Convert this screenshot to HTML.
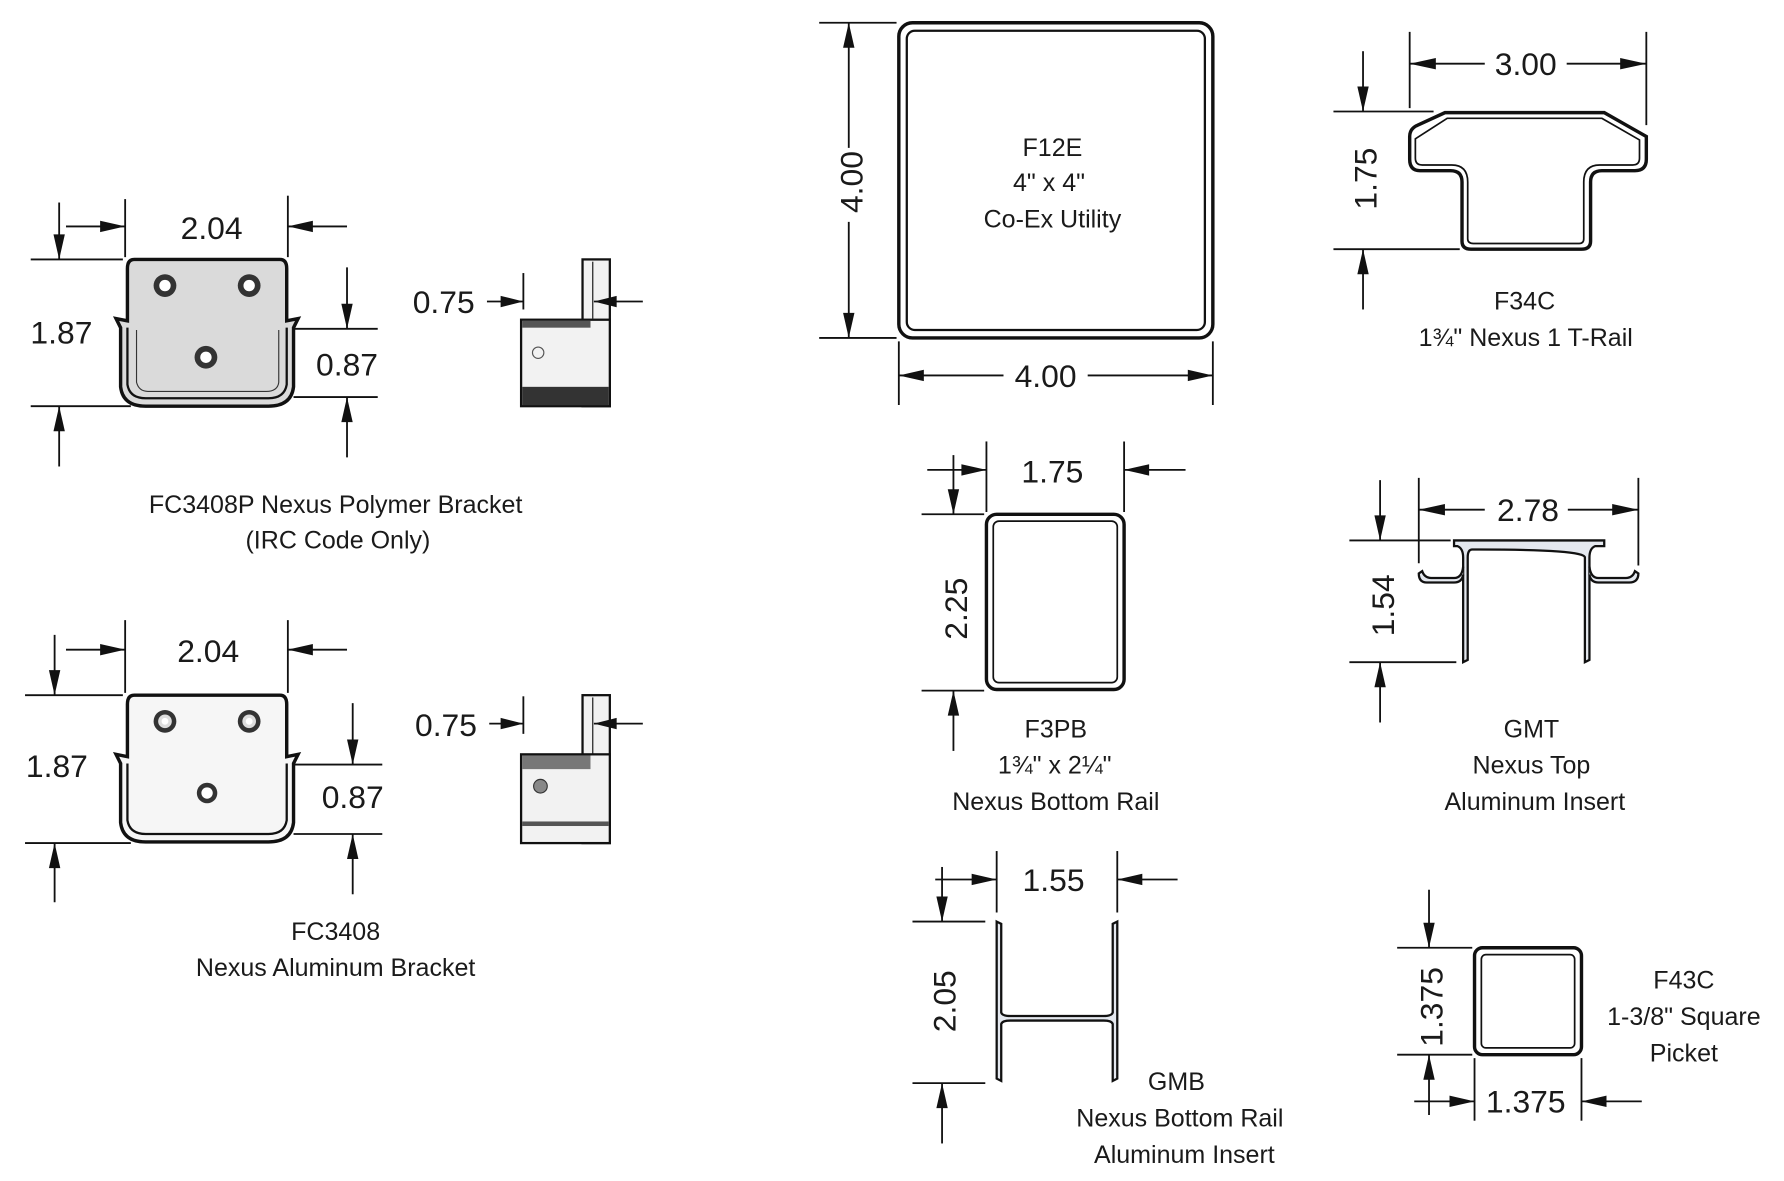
<!DOCTYPE html>
<html><head><meta charset="utf-8"><style>
html,body{margin:0;padding:0;background:#fff;}
svg{display:block;}
text{font-family:"Liberation Sans","DejaVu Sans",sans-serif;fill:#1a1a1a;}
.t{font-size:22px;text-anchor:middle;}
.d{font-size:28px;text-anchor:middle;}
line{stroke:#111;stroke-width:1.6;}
polygon.a{fill:#111;}
</style></head><body>
<svg width="1784" height="1181" viewBox="0 0 1568 1038" preserveAspectRatio="none" xmlns="http://www.w3.org/2000/svg">

<!-- ===== Bracket 1 ===== -->
<path d="M118,228 H246 Q252,228 252,236 V282 L262,280 L258,288 V340 Q256,357 236,357 H128 Q108,357 106,340 V288 L102,280 L112,282 V236 Q112,228 118,228 Z" fill="#dadada" stroke="#111" stroke-width="3"/>
<path d="M112,288 V338 Q114,350 128,350 H236 Q250,350 252,338 V288" fill="none" stroke="#111" stroke-width="2"/>
<path d="M120,290 V336 Q122,344 130,344 H234 Q244,344 245,336 V290" fill="none" stroke="#333" stroke-width="1"/>
<circle cx="145" cy="251" r="10" fill="#333"/><circle cx="145" cy="251" r="5" fill="#fff"/>
<circle cx="219" cy="251" r="10" fill="#333"/><circle cx="219" cy="251" r="5" fill="#fff"/>
<circle cx="181" cy="314" r="10" fill="#333"/><circle cx="181" cy="314" r="5" fill="#fff"/>
<line x1="110" y1="175" x2="110" y2="226"/><line x1="253" y1="172" x2="253" y2="226"/>
<line x1="58" y1="199" x2="110" y2="199"/><polygon class="a" points="110,199 88,194 88,204"/>
<line x1="253" y1="199" x2="305" y2="199"/><polygon class="a" points="253,199 275,194 275,204"/>
<text class="d" x="186" y="210">2.04</text>
<line x1="27" y1="228" x2="108" y2="228"/><line x1="27" y1="357" x2="115" y2="357"/>
<line x1="52" y1="178" x2="52" y2="228"/><polygon class="a" points="52,228 47,206 57,206"/>
<line x1="52" y1="357" x2="52" y2="410"/><polygon class="a" points="52,357 47,379 57,379"/>
<text class="d" x="54" y="302">1.87</text>
<line x1="258" y1="289" x2="332" y2="289"/><line x1="258" y1="349" x2="332" y2="349"/>
<line x1="305" y1="235" x2="305" y2="289"/><polygon class="a" points="305,289 300,267 310,267"/>
<line x1="305" y1="349" x2="305" y2="402"/><polygon class="a" points="305,349 300,371 310,371"/>
<text class="d" x="305" y="330">0.87</text>
<rect x="512" y="228" width="24" height="129" fill="#f2f2f2" stroke="#111" stroke-width="2"/>
<line x1="521" y1="230" x2="521" y2="280" style="stroke-width:1"/>
<rect x="458" y="281" width="78" height="76" fill="#f2f2f2" stroke="#111" stroke-width="2"/>
<rect x="459" y="340" width="76" height="16" fill="#333"/>
<rect x="459" y="282" width="60" height="6" fill="#555"/>
<circle cx="473" cy="310" r="5" fill="none" stroke="#555"/>
<line x1="460" y1="240" x2="460" y2="272"/>
<line x1="428" y1="265" x2="460" y2="265"/><polygon class="a" points="460,265 440,260 440,270"/>
<line x1="522" y1="265" x2="565" y2="265"/><polygon class="a" points="522,265 542,260 542,270"/>
<text class="d" x="390" y="275">0.75</text>
<text class="t" x="295" y="451">FC3408P Nexus Polymer Bracket</text>
<text class="t" x="297" y="482">(IRC Code Only)</text>

<!-- ===== Bracket 2 ===== -->
<path d="M118,611 H246 Q252,611 252,619 V665 L262,663 L258,671 V723 Q256,740 236,740 H128 Q108,740 106,723 V671 L102,663 L112,665 V619 Q112,611 118,611 Z" fill="#f6f6f6" stroke="#111" stroke-width="3"/>
<path d="M112,671 V721 Q114,733 128,733 H236 Q250,733 252,721 V671" fill="none" stroke="#111" stroke-width="2"/>
<circle cx="145" cy="634" r="10" fill="#333"/><circle cx="145" cy="634" r="6" fill="#ddd"/><circle cx="145" cy="634" r="3" fill="#fff"/>
<circle cx="219" cy="634" r="10" fill="#333"/><circle cx="219" cy="634" r="6" fill="#ddd"/><circle cx="219" cy="634" r="3" fill="#fff"/>
<circle cx="182" cy="697" r="9" fill="#333"/><circle cx="182" cy="697" r="5" fill="#fff"/>
<line x1="110" y1="545" x2="110" y2="609"/><line x1="253" y1="545" x2="253" y2="609"/>
<line x1="58" y1="571" x2="110" y2="571"/><polygon class="a" points="110,571 88,566 88,576"/>
<line x1="253" y1="571" x2="305" y2="571"/><polygon class="a" points="253,571 275,566 275,576"/>
<text class="d" x="183" y="582">2.04</text>
<line x1="22" y1="611" x2="108" y2="611"/><line x1="22" y1="741" x2="115" y2="741"/>
<line x1="48" y1="558" x2="48" y2="611"/><polygon class="a" points="48,611 43,589 53,589"/>
<line x1="48" y1="741" x2="48" y2="793"/><polygon class="a" points="48,741 43,763 53,763"/>
<text class="d" x="50" y="683">1.87</text>
<line x1="258" y1="672" x2="336" y2="672"/><line x1="258" y1="733" x2="336" y2="733"/>
<line x1="310" y1="618" x2="310" y2="672"/><polygon class="a" points="310,672 305,650 315,650"/>
<line x1="310" y1="733" x2="310" y2="786"/><polygon class="a" points="310,733 305,755 315,755"/>
<text class="d" x="310" y="710">0.87</text>
<rect x="512" y="611" width="24" height="130" fill="#f2f2f2" stroke="#111" stroke-width="2"/>
<line x1="521" y1="613" x2="521" y2="663" style="stroke-width:1"/>
<rect x="458" y="663" width="78" height="78" fill="#f2f2f2" stroke="#111" stroke-width="2"/>
<rect x="459" y="664" width="60" height="12" fill="#777"/>
<rect x="459" y="722" width="76" height="4" fill="#555"/>
<circle cx="475" cy="691" r="6" fill="#888" stroke="#333"/>
<line x1="460" y1="612" x2="460" y2="645"/>
<line x1="430" y1="636" x2="460" y2="636"/><polygon class="a" points="460,636 440,631 440,641"/>
<line x1="522" y1="636" x2="565" y2="636"/><polygon class="a" points="522,636 542,631 542,641"/>
<text class="d" x="392" y="647">0.75</text>
<text class="t" x="295" y="826">FC3408</text>
<text class="t" x="295" y="858">Nexus Aluminum Bracket</text>

<!-- ===== F12E ===== -->
<rect x="790" y="20" width="276" height="277" rx="12" fill="none" stroke="#111" stroke-width="3"/>
<rect x="797" y="27" width="262" height="263" rx="7" fill="none" stroke="#111" stroke-width="2"/>
<line x1="720" y1="20" x2="788" y2="20"/><line x1="720" y1="297" x2="788" y2="297"/>
<line x1="746" y1="20" x2="746" y2="130"/><line x1="746" y1="195" x2="746" y2="297"/>
<polygon class="a" points="746,20 741,42 751,42"/><polygon class="a" points="746,297 741,275 751,275"/>
<text class="d" transform="translate(758,160) rotate(-90)">4.00</text>
<line x1="790" y1="300" x2="790" y2="356"/><line x1="1066" y1="300" x2="1066" y2="356"/>
<line x1="790" y1="330" x2="882" y2="330"/><line x1="956" y1="330" x2="1066" y2="330"/>
<polygon class="a" points="790,330 812,325 812,335"/><polygon class="a" points="1066,330 1044,325 1044,335"/>
<text class="d" x="919" y="340">4.00</text>
<text class="t" x="925" y="137">F12E</text>
<text class="t" x="922" y="168">4" x 4"</text>
<text class="t" x="925" y="200">Co-Ex Utility</text>

<!-- ===== F34C ===== -->
<path d="M1270,99 H1410 L1447,120 V140 Q1447,150 1437,150 H1408 Q1398,150 1398,160 V212 Q1398,219 1390,219 H1293 Q1285,219 1285,212 V160 Q1285,150 1275,150 H1248 Q1239,150 1239,140 V120 Q1239,113 1246,110 Z" fill="none" stroke="#111" stroke-width="3"/>
<path d="M1272,104 H1408 L1441,123 V139 Q1441,145 1435,145 H1406 Q1392,145 1392,160 V210 Q1392,214 1388,214 H1295 Q1290,214 1290,210 V160 Q1290,145 1276,145 H1250 Q1244,145 1244,139 V122 Z" fill="none" stroke="#111" stroke-width="1.5"/>
<line x1="1239" y1="28" x2="1239" y2="95"/><line x1="1447" y1="28" x2="1447" y2="110"/>
<line x1="1239" y1="56" x2="1305" y2="56"/><line x1="1377" y1="56" x2="1447" y2="56"/>
<polygon class="a" points="1239,56 1262,51 1262,61"/><polygon class="a" points="1447,56 1424,51 1424,61"/>
<text class="d" x="1341" y="66">3.00</text>
<line x1="1172" y1="98" x2="1260" y2="98"/><line x1="1172" y1="219" x2="1283" y2="219"/>
<line x1="1198" y1="45" x2="1198" y2="98"/><polygon class="a" points="1198,98 1193,76 1203,76"/>
<line x1="1198" y1="219" x2="1198" y2="272"/><polygon class="a" points="1198,219 1193,241 1203,241"/>
<text class="d" transform="translate(1210,157) rotate(-90)">1.75</text>
<text class="t" x="1340" y="272">F34C</text>
<text class="t" x="1341" y="304">1¾" Nexus 1 T-Rail</text>

<!-- ===== F3PB ===== -->
<rect x="867" y="452" width="121" height="154" rx="9" fill="none" stroke="#111" stroke-width="3"/>
<rect x="873" y="458" width="109" height="142" rx="5" fill="none" stroke="#111" stroke-width="1.5"/>
<line x1="867" y1="388" x2="867" y2="450"/><line x1="988" y1="388" x2="988" y2="450"/>
<line x1="815" y1="413" x2="867" y2="413"/><polygon class="a" points="867,413 845,408 845,418"/>
<line x1="988" y1="413" x2="1042" y2="413"/><polygon class="a" points="988,413 1010,408 1010,418"/>
<text class="d" x="925" y="424">1.75</text>
<line x1="810" y1="452" x2="865" y2="452"/><line x1="810" y1="607" x2="865" y2="607"/>
<line x1="838" y1="400" x2="838" y2="452"/><polygon class="a" points="838,452 833,430 843,430"/>
<line x1="838" y1="607" x2="838" y2="660"/><polygon class="a" points="838,607 833,629 843,629"/>
<text class="d" transform="translate(850,535) rotate(-90)">2.25</text>
<text class="t" x="928" y="648">F3PB</text>
<text class="t" x="927" y="680">1¾" x 2¼"</text>
<text class="t" x="928" y="712">Nexus Bottom Rail</text>

<!-- ===== GMT ===== -->
<path d="M1278,475 H1410 V480 H1402 Q1397,482 1397,490 V580 L1393,582 V490 Q1393,483 1300,483 H1294 Q1290,483 1290,490 V580 L1286,582 V490 Q1286,482 1281,480 H1278 Z" fill="#e4e8ef" stroke="#111" stroke-width="2"/>
<path d="M1286,505 Q1285,512 1278,512 H1254 Q1247,512 1247,504 L1250,502 Q1252,508 1258,508 H1278 Q1285,508 1286,498" fill="#e4e8ef" stroke="#111" stroke-width="2"/>
<path d="M1397,505 Q1398,512 1405,512 H1432 Q1440,512 1440,504 L1437,502 Q1435,508 1429,508 H1405 Q1398,508 1397,498" fill="#e4e8ef" stroke="#111" stroke-width="2"/>
<line x1="1247" y1="420" x2="1247" y2="495"/><line x1="1440" y1="420" x2="1440" y2="497"/>
<line x1="1247" y1="448" x2="1305" y2="448"/><line x1="1378" y1="448" x2="1440" y2="448"/>
<polygon class="a" points="1247,448 1270,443 1270,453"/><polygon class="a" points="1440,448 1417,443 1417,453"/>
<text class="d" x="1343" y="458">2.78</text>
<line x1="1186" y1="475" x2="1275" y2="475"/><line x1="1186" y1="582" x2="1280" y2="582"/>
<line x1="1213" y1="422" x2="1213" y2="475"/><polygon class="a" points="1213,475 1208,453 1218,453"/>
<line x1="1213" y1="582" x2="1213" y2="635"/><polygon class="a" points="1213,582 1208,604 1218,604"/>
<text class="d" transform="translate(1225,532) rotate(-90)">1.54</text>
<text class="t" x="1346" y="648">GMT</text>
<text class="t" x="1346" y="680">Nexus Top</text>
<text class="t" x="1349" y="712">Aluminum Insert</text>

<!-- ===== GMB ===== -->
<path d="M876,810 L880,812 V890 Q881,893 888,893 H970 Q977,893 978,890 V812 L982,810 V948 L978,950 V900 Q977,897 970,897 H888 Q881,897 880,900 V950 L876,948 Z" fill="#e4e8ef" stroke="#111" stroke-width="2"/>
<line x1="876" y1="748" x2="876" y2="802"/><line x1="982" y1="748" x2="982" y2="802"/>
<line x1="822" y1="773" x2="876" y2="773"/><polygon class="a" points="876,773 854,768 854,778"/>
<line x1="982" y1="773" x2="1035" y2="773"/><polygon class="a" points="982,773 1004,768 1004,778"/>
<text class="d" x="926" y="783">1.55</text>
<line x1="802" y1="810" x2="866" y2="810"/><line x1="802" y1="952" x2="866" y2="952"/>
<line x1="828" y1="762" x2="828" y2="810"/><polygon class="a" points="828,810 823,788 833,788"/>
<line x1="828" y1="952" x2="828" y2="1005"/><polygon class="a" points="828,952 823,974 833,974"/>
<text class="d" transform="translate(840,880) rotate(-90)">2.05</text>
<text class="t" x="1034" y="958">GMB</text>
<text class="t" x="1037" y="990">Nexus Bottom Rail</text>
<text class="t" x="1041" y="1022">Aluminum Insert</text>

<!-- ===== F43C ===== -->
<rect x="1296" y="833" width="94" height="94" rx="7" fill="none" stroke="#111" stroke-width="3"/>
<rect x="1302" y="839" width="82" height="82" rx="4" fill="none" stroke="#111" stroke-width="1.5"/>
<line x1="1228" y1="833" x2="1294" y2="833"/><line x1="1228" y1="927" x2="1294" y2="927"/>
<line x1="1256" y1="782" x2="1256" y2="833"/><polygon class="a" points="1256,833 1251,811 1261,811"/>
<line x1="1256" y1="927" x2="1256" y2="980"/><polygon class="a" points="1256,927 1251,949 1261,949"/>
<text class="d" transform="translate(1268,885) rotate(-90)">1.375</text>
<line x1="1296" y1="930" x2="1296" y2="985"/><line x1="1390" y1="930" x2="1390" y2="985"/>
<line x1="1243" y1="968" x2="1296" y2="968"/><polygon class="a" points="1296,968 1274,963 1274,973"/>
<line x1="1390" y1="968" x2="1443" y2="968"/><polygon class="a" points="1390,968 1412,963 1412,973"/>
<text class="d" x="1341" y="978">1.375</text>
<text class="t" x="1480" y="869">F43C</text>
<text class="t" x="1480" y="901">1-3/8" Square</text>
<text class="t" x="1480" y="933">Picket</text>
</svg>
</body></html>
